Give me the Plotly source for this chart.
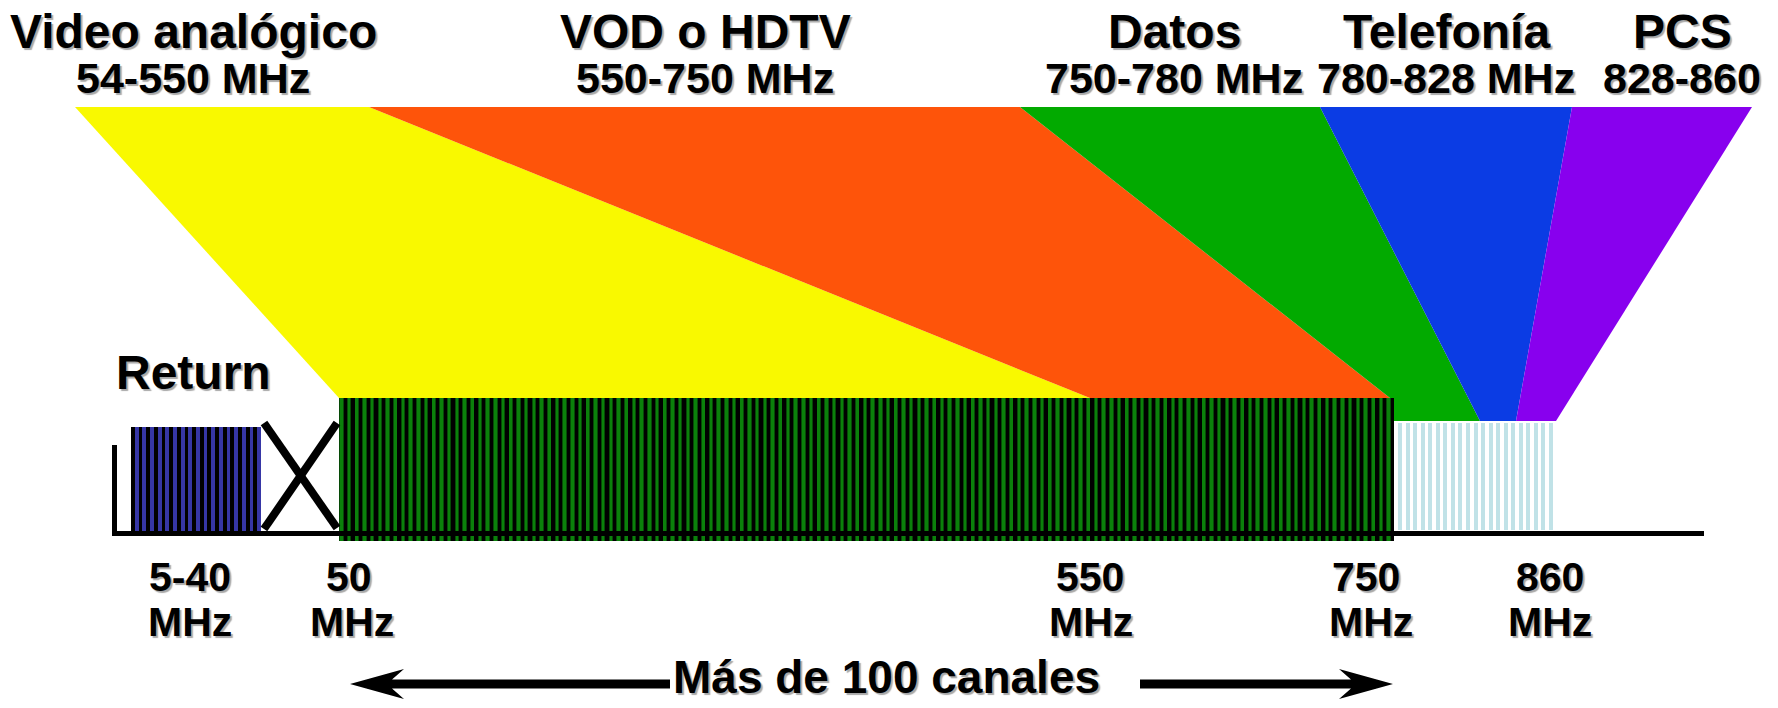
import numpy as np
import plotly.graph_objects as go

# ---------------- data ----------------
band_names = ["Video analógico", "VOD o HDTV", "Datos", "Telefonía", "PCS"]
band_ranges = ["54-550 MHz", "550-750 MHz", "750-780 MHz", "780-828 MHz", "828-860"]
tick_top = ["5-40", "50", "550", "750", "860"]
tick_bottom = ["MHz", "MHz", "MHz", "MHz", "MHz"]
return_label = "Return"
channels_label = "Más de 100 canales"
n_return_channels = 17
n_forward_channels = 137
n_upper_slots = 21

# ---------------- geometry (pixel space) ----------------
W, H = 1778, 708
TOP_Y = 107
BLOCK_TOP = 398
UPPER_TOP = 421
band_top_edges = [75, 369, 1020, 1320, 1572, 1752]
band_colors = ["#f9f900", "#fe540a", "#02aa00", "#0b3ce4", "#8800ee"]
band_label_x = [193, 705, 1174, 1446, 1682]
tick_x_top = [190, 349, 1090, 1366, 1550]
tick_x_bot = [190, 352, 1091, 1371, 1550]

fwd_x0, fwd_x1, fwd_y0, fwd_y1 = 339, 1394, 398, 541
ret_x0, ret_x1, ret_y0, ret_y1 = 131, 261, 427, 531
up_x0, up_x1, up_y0, up_y1 = 1394, 1553, 423, 530
base_y = 533.5

FONT = "Liberation Sans, Arial, Helvetica, sans-serif"
SHADOW = "2px 2px 1px #a8a8a8"

fig = go.Figure()


def poly(xs, ys, color):
    fig.add_trace(go.Scatter(x=xs + [xs[0]], y=ys + [ys[0]], mode="lines",
                             fill="toself", fillcolor=color,
                             line=dict(width=0, color=color),
                             hoverinfo="skip"))


e = band_top_edges
# funnel bands
poly([e[0], e[1], 1090, fwd_x0], [TOP_Y, TOP_Y, BLOCK_TOP, BLOCK_TOP], band_colors[0])
poly([e[1], e[2], 1390, 1090], [TOP_Y, TOP_Y, BLOCK_TOP, BLOCK_TOP], band_colors[1])
poly([e[2], e[3], 1480, fwd_x1, fwd_x1, 1390],
     [TOP_Y, TOP_Y, UPPER_TOP, UPPER_TOP, BLOCK_TOP, BLOCK_TOP], band_colors[2])
poly([e[3], e[4], 1516, 1480], [TOP_Y, TOP_Y, UPPER_TOP, UPPER_TOP], band_colors[3])
poly([e[4], e[5], 1556, 1516], [TOP_Y, TOP_Y, UPPER_TOP, UPPER_TOP], band_colors[4])


def bars(centers, width, y0, y1, color):
    n = len(centers)
    fig.add_trace(go.Bar(x=list(centers), y=[y1 - y0] * n, base=[y0] * n,
                         width=[width] * n, marker=dict(color=color, line=dict(width=0)),
                         hoverinfo="skip"))


# forward channels block
bars([(fwd_x0 + fwd_x1) / 2], fwd_x1 - fwd_x0, fwd_y0, fwd_y1, "#000000")
p = (fwd_x1 - fwd_x0) / n_forward_channels
fc = fwd_x0 + p * np.arange(n_forward_channels) + 2.3
bars(fc, 4.4, fwd_y0, fwd_y1, "#064a06")
bars(fc, 2.6, fwd_y0, fwd_y1, "#0b800b")

# return channels block
bars([(ret_x0 + ret_x1) / 2], ret_x1 - ret_x0, ret_y0, ret_y1, "#000000")
pr = (ret_x1 - ret_x0) / n_return_channels
rc = ret_x1 - 1.9 - pr * np.arange(n_return_channels)
bars(rc, 3.8, ret_y0, ret_y1, "#3636a6")

# upper (light) slots
pu = (up_x1 - 2 - (up_x0 + 6)) / (n_upper_slots - 1)
uc = up_x0 + 6 + pu * np.arange(n_upper_slots)
bars(uc, 4.0, up_y0, up_y1, "#c0e2e7")

# 550 MHz marker
bars([1092.5], 3, 387, BLOCK_TOP, "#0b7f0b")

# baseline and left edge
fig.add_trace(go.Scatter(x=[113, 1704], y=[base_y, base_y], mode="lines",
                         line=dict(color="black", width=5), hoverinfo="skip"))
fig.add_trace(go.Scatter(x=[114.5, 114.5], y=[445, 536], mode="lines",
                         line=dict(color="black", width=5), hoverinfo="skip"))

# X between return and forward
fig.add_trace(go.Scatter(x=[264, 337], y=[423, 528], mode="lines",
                         line=dict(color="black", width=8), hoverinfo="skip"))
fig.add_trace(go.Scatter(x=[337, 264], y=[423, 529], mode="lines",
                         line=dict(color="black", width=8), hoverinfo="skip"))

# double arrow
ay = 684
poly([350, 404, 392, 670, 670, 392, 404],
     [ay, ay - 15, ay - 4.5, ay - 4.5, ay + 4.5, ay + 4.5, ay + 15], "#000000")
poly([1393, 1339, 1351, 1140, 1140, 1351, 1339],
     [ay, ay - 15, ay - 4.5, ay - 4.5, ay + 4.5, ay + 4.5, ay + 15], "#000000")

ann = []


def text(x, y, s, size):
    ann.append(dict(x=x, y=y, xref="x", yref="y", text=s, showarrow=False,
                    xanchor="center", yanchor="middle", borderpad=0,
                    font=dict(family=FONT, size=size, color="black",
                              weight="bold", shadow=SHADOW)))


for i in range(5):
    text(band_label_x[i], 31, band_names[i], 48)
    text(band_label_x[i], 78, band_ranges[i], 43)
    text(tick_x_top[i], 577, tick_top[i], 41)
    text(tick_x_bot[i], 622, tick_bottom[i], 41)
text(193, 372, return_label, 48)
text(886, 677, channels_label, 46)

fig.update_layout(
    width=W, height=H, margin=dict(l=0, r=0, t=0, b=0),
    paper_bgcolor="white", plot_bgcolor="white",
    showlegend=False, barmode="overlay", bargap=0,
    xaxis=dict(range=[0, W], visible=False, fixedrange=True),
    yaxis=dict(range=[H, 0], visible=False, fixedrange=True),
    annotations=ann, hovermode=False,
)

fig.write_html("out.html", config={"displayModeBar": False})

# remove the default page margin so the figure fills the window exactly
with open("out.html", "r", encoding="utf-8") as fh:
    html = fh.read()
html = html.replace("<head>", "<head><style>html,body{margin:0;padding:0;overflow:hidden;}</style>", 1)
with open("out.html", "w", encoding="utf-8") as fh:
    fh.write(html)
